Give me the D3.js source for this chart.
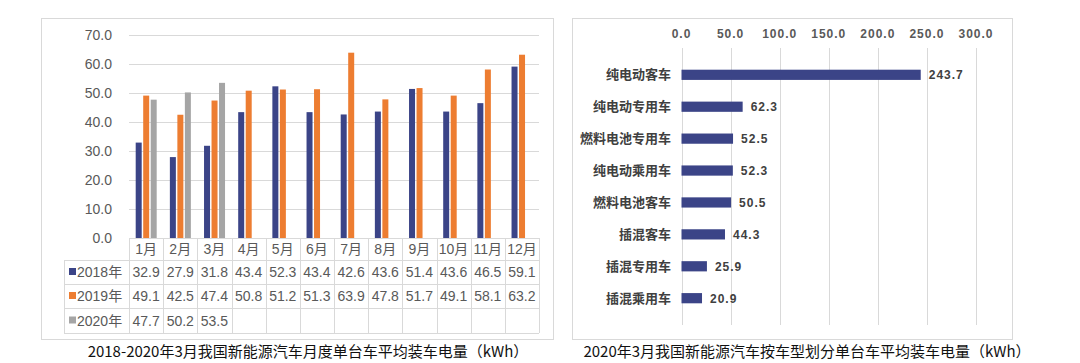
<!DOCTYPE html>
<html>
<head>
<meta charset="utf-8">
<script src="https://cdn.jsdelivr.net/npm/d3@7"></script>
<style>
  body { margin: 0; background: #fff; }
  svg text { font-family: "Liberation Sans", "Noto Sans CJK SC", sans-serif; }
</style>
</head>
<body>
<div id="chart"></div>
<script>
// left chart data
const months = ["1月", "2月", "3月", "4月", "5月", "6月", "7月", "8月", "9月", "10月", "11月", "12月"];
const seriesNames = ["2018年", "2019年", "2020年"];
const v2018 = [32.9, 27.9, 31.8, 43.4, 52.3, 43.4, 42.6, 43.6, 51.4, 43.6, 46.5, 59.1];
const v2019 = [49.1, 42.5, 47.4, 50.8, 51.2, 51.3, 63.9, 47.8, 51.7, 49.1, 58.1, 63.2];
const v2020 = [47.7, 50.2, 53.5];
const yTicks = [0, 10, 20, 30, 40, 50, 60, 70];

// right chart data
const carTypes = ["纯电动客车", "纯电动专用车", "燃料电池专用车", "纯电动乘用车", "燃料电池客车", "插混客车", "插混专用车", "插混乘用车"];
const carValues = [243.7, 62.3, 52.5, 52.3, 50.5, 44.3, 25.9, 20.9];
const xTicks = [0, 50, 100, 150, 200, 250, 300];

const colors = ["#3b4487", "#ed7d31", "#a5a5a5"];
const grid = "#d9d9d9";
const txt = "#595959";

const svg = d3.select("#chart").append("svg")
    .attr("width", 1080)
    .attr("height", 363);

// panel borders
svg.append("rect").attr("x", 41.5).attr("y", 18.5).attr("width", 512).attr("height", 321)
    .attr("fill", "none").attr("stroke", grid);
svg.append("rect").attr("x", 572.5).attr("y", 18.5).attr("width", 440).attr("height", 321)
    .attr("fill", "none").attr("stroke", grid);

// ---------- left: grouped bars + data table ----------
const x0 = d3.scaleBand().domain(months).range([129, 539]);
const x1 = d3.scaleBand().domain(seriesNames).range([6.7, 27.7]).paddingInner(0.2);
const y = d3.scaleLinear().domain([0, 70]).range([238, 35]);

const left = svg.append("g");

left.selectAll(".ygrid")
    .data(yTicks.slice(1))
    .enter().append("line")
    .attr("x1", 129).attr("x2", 539)
    .attr("y1", d => Math.round(y(d)) + 0.5).attr("y2", d => Math.round(y(d)) + 0.5)
    .attr("stroke", grid);

left.selectAll(".ylab")
    .data(yTicks)
    .enter().append("text")
    .attr("x", 112)
    .attr("y", d => y(d) + 5)
    .attr("text-anchor", "end")
    .attr("fill", txt)
    .style("font-size", "14px")
    .text(d => d.toFixed(1));

const allSeries = [v2018, v2019, v2020];
const barData = [];
allSeries.forEach((vals, si) => {
    vals.forEach((v, i) => barData.push({ month: months[i], series: seriesNames[si], si: si, value: v }));
});

left.selectAll(".bar")
    .data(barData)
    .enter().append("rect")
    .attr("x", d => x0(d.month) + x1(d.series))
    .attr("y", d => y(d.value))
    .attr("width", x1.bandwidth())
    .attr("height", d => y(0) - y(d.value))
    .attr("fill", d => colors[d.si]);

// table
const rowTops = [238, 260, 284, 308, 333];
const tableLeft = 64;
const tbl = left.append("g").attr("stroke", grid).attr("fill", "none");

// horizontal lines
tbl.append("line").attr("x1", 129).attr("x2", 539).attr("y1", 238.5).attr("y2", 238.5);
rowTops.slice(1).forEach(t => {
    tbl.append("line").attr("x1", tableLeft).attr("x2", 539).attr("y1", t + 0.5).attr("y2", t + 0.5);
});
// vertical lines
const colEdges = months.map(m => x0(m)).concat([x0.range()[1]]);
colEdges.forEach(cx => {
    tbl.append("line").attr("x1", Math.round(cx) + 0.5).attr("x2", Math.round(cx) + 0.5)
        .attr("y1", 238).attr("y2", 333);
});
tbl.append("line").attr("x1", tableLeft + 0.5).attr("x2", tableLeft + 0.5).attr("y1", 260).attr("y2", 333);

left.selectAll(".mlab")
    .data(months)
    .enter().append("text")
    .attr("x", d => x0(d) + x0.bandwidth() / 2)
    .attr("y", 254)
    .attr("text-anchor", "middle")
    .attr("fill", txt)
    .style("font-size", "14px")
    .text(d => d);

allSeries.forEach((vals, si) => {
    const cy = (rowTops[si + 1] + rowTops[si + 2]) / 2;
    left.append("rect")
        .attr("x", 69).attr("y", cy - 4).attr("width", 7).attr("height", 7)
        .attr("fill", colors[si]);
    left.append("text")
        .attr("x", 77).attr("y", cy + 5)
        .attr("fill", txt)
        .style("font-size", "14px")
        .text(seriesNames[si]);
    left.selectAll(".v" + si)
        .data(vals)
        .enter().append("text")
        .attr("x", (d, i) => x0(months[i]) + x0.bandwidth() / 2)
        .attr("y", cy + 5)
        .attr("text-anchor", "middle")
        .attr("fill", txt)
        .style("font-size", "14px")
        .text(d => d.toFixed(1));
});

left.append("text")
    .attr("x", 308).attr("y", 357)
    .attr("text-anchor", "middle")
    .attr("fill", "#111")
    .style("font-size", "15px")
    .style("font-family", "'Noto Sans CJK SC', sans-serif")
    .text("2018-2020年3月我国新能源汽车月度单台车平均装车电量（kWh）");

// ---------- right: horizontal bars ----------
const xr = d3.scaleLinear().domain([0, 300]).range([681.5, 976]);
const yr = d3.scaleBand().domain(carTypes).range([48, 325]).padding(0.68);

const right = svg.append("g");

right.selectAll(".xgrid")
    .data(xTicks)
    .enter().append("line")
    .attr("x1", d => Math.round(xr(d)) + 0.5).attr("x2", d => Math.round(xr(d)) + 0.5)
    .attr("y1", 48).attr("y2", 325)
    .attr("stroke", grid);

right.selectAll(".xlab")
    .data(xTicks)
    .enter().append("text")
    .attr("x", d => xr(d))
    .attr("y", 38)
    .attr("text-anchor", "middle")
    .attr("fill", txt)
    .style("font-size", "12px")
    .style("font-weight", "bold")
    .style("letter-spacing", "1px")
    .text(d => d.toFixed(1));

right.selectAll(".hbar")
    .data(carValues)
    .enter().append("rect")
    .attr("x", xr(0))
    .attr("y", (d, i) => yr(carTypes[i]))
    .attr("width", d => xr(d) - xr(0))
    .attr("height", yr.bandwidth())
    .attr("fill", colors[0]);

right.selectAll(".hval")
    .data(carValues)
    .enter().append("text")
    .attr("x", d => xr(d) + 8)
    .attr("y", (d, i) => yr(carTypes[i]) + yr.bandwidth() / 2 + 4.5)
    .attr("fill", "#404040")
    .style("font-size", "12px")
    .style("font-weight", "bold")
    .style("letter-spacing", "1px")
    .text(d => d.toFixed(1));

right.selectAll(".clab")
    .data(carTypes)
    .enter().append("text")
    .attr("x", 671)
    .attr("y", d => yr(d) + yr.bandwidth() / 2 + 4.5)
    .attr("text-anchor", "end")
    .attr("fill", "#404040")
    .style("font-size", "13px")
    .style("font-weight", "bold")
    .style("font-family", "'Noto Sans CJK SC', sans-serif")
    .text(d => d);

right.append("text")
    .attr("x", 807).attr("y", 357)
    .attr("text-anchor", "middle")
    .attr("fill", "#111")
    .style("font-size", "15px")
    .style("font-family", "'Noto Sans CJK SC', sans-serif")
    .text("2020年3月我国新能源汽车按车型划分单台车平均装车电量（kWh）");
</script>
</body>
</html>
